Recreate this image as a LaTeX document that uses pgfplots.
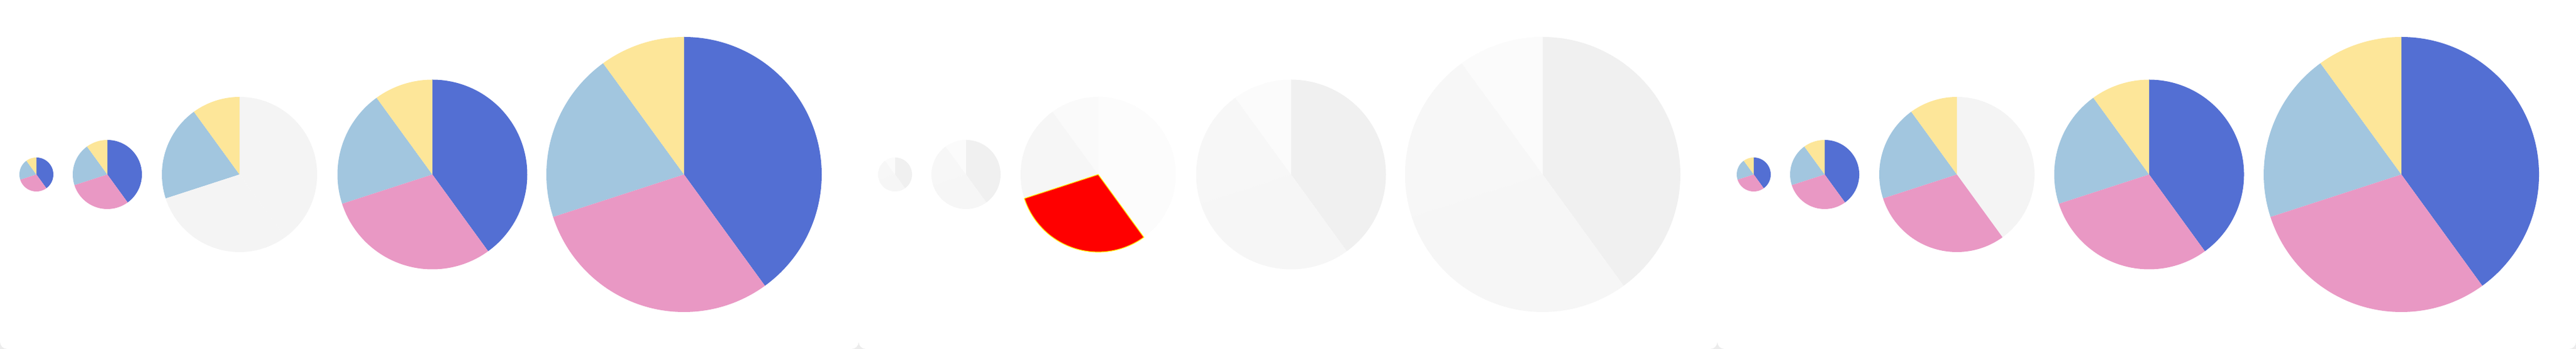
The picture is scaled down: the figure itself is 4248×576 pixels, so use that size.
\documentclass[border=0pt]{standalone}
\usepackage{pgfplots}
\pgfplotsset{compat=1.18}
\usepgfplotslibrary{polar}

\definecolor{sBlue}{HTML}{536FD3}
\definecolor{sPink}{HTML}{E998C4}
\definecolor{sLblue}{HTML}{A2C6DF}
\definecolor{sYellow}{HTML}{FDE699}
\definecolor{sGray}{HTML}{F4F4F4}
\definecolor{shadow}{HTML}{ECECEC}

% slice shares (percent): 40, 30, 20, 10, clockwise from 12 o'clock
% -> angle ranges: blue -54..90, pink -162..-54, light blue -234..-162, yellow -270..-234
% every pie axis has the same scale (radius 227 px = 113.5pt across)
% #1 centre x (px), #2 radius (px), #3-#6 colours, #7 extra style of the second slice
\newcommand{\pie}[7]{%
  \begin{polaraxis}[at={(#1,288)}, anchor=origin, hide axis, scale only axis,
      width=113.5pt, xmin=0, xmax=360, ymin=0, ymax=227, clip=false]
    \addplot[fill=#3, draw=none, domain=-54:90, samples=100] {#2} -- (axis cs:0,0) -- cycle;
    \addplot[fill=#5, draw=none, domain=-234:-162, samples=60] {#2} -- (axis cs:0,0) -- cycle;
    \addplot[fill=#6, draw=none, domain=-270:-234, samples=40] {#2} -- (axis cs:0,0) -- cycle;
    \addplot[fill=#4, draw=none, domain=-162:-54, samples=80, #7] {#2} -- (axis cs:0,0) -- cycle;
  \end{polaraxis}}

\begin{document}
\begin{tikzpicture}[x=0.25pt, y=0.25pt]
  \useasboundingbox (0,0) rectangle (4248,576);
  \clip (0,0) rectangle (4248,576);
  \fill[shadow] (0,0) rectangle (4248,30);
  \foreach \k in {0,1,2} {
    \fill[white, rounded corners=3pt] ({1416*\k},0) rectangle ({1416*(\k+1)},640);
  }

  % panel 1
  \pie{60}{28}{sBlue}{sPink}{sLblue}{sYellow}{}
  \pie{177}{57}{sBlue}{sPink}{sLblue}{sYellow}{}
  \pie{395}{128}{sGray}{sGray}{sLblue}{sYellow}{}
  \pie{713}{156.5}{sBlue}{sPink}{sLblue}{sYellow}{}
  \pie{1128}{227}{sBlue}{sPink}{sLblue}{sYellow}{}

  % panel 2
  \pie{1476}{28}{black!6}{black!3.5}{black!3}{black!1.5}{}
  \pie{1593}{57}{black!6}{black!3.5}{black!3}{black!1.5}{}
  \pie{1811}{128}{black!1}{red}{black!3.5}{black!2}{draw=yellow, line width=0.3pt}
  \pie{2129}{156.5}{black!6}{black!3.5}{black!3}{black!1.5}{}
  \pie{2544}{227}{black!6}{black!3.5}{black!3}{black!1.5}{}

  % panel 3
  \pie{2892}{28}{sBlue}{sPink}{sLblue}{sYellow}{}
  \pie{3009}{57}{sBlue}{sPink}{sLblue}{sYellow}{}
  \pie{3227}{128}{sGray}{sPink}{sLblue}{sYellow}{}
  \pie{3544}{156.5}{sBlue}{sPink}{sLblue}{sYellow}{}
  \pie{3960}{227}{sBlue}{sPink}{sLblue}{sYellow}{}
\end{tikzpicture}
\end{document}
